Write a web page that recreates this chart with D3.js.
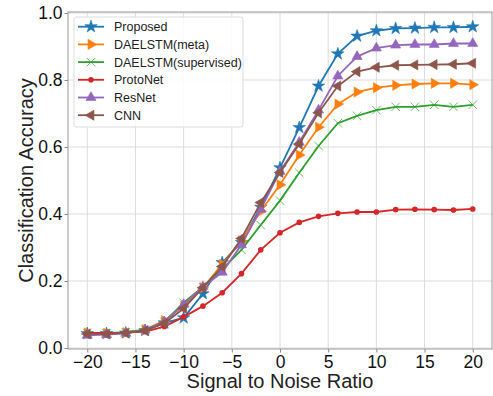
<!DOCTYPE html>
<html><head><meta charset="utf-8">
<script src="https://cdn.jsdelivr.net/npm/d3@7"></script>
<style>body{margin:0;background:#fff;} svg{display:block;font-family:"Liberation Sans",Arial,sans-serif;}</style>
</head><body>
<svg id="c" width="493" height="396"></svg>
<script>
const snr = [-20,-18,-16,-14,-12,-10,-8,-6,-4,-2,0,2,4,6,8,10,12,14,16,18,20];
const seriesNames = ["Proposed","DAELSTM(meta)","DAELSTM(supervised)","ProtoNet","ResNet","CNN"];
const proposed = [0.043,0.043,0.045,0.052,0.075,0.090,0.162,0.255,0.315,0.420,0.538,0.658,0.782,0.878,0.931,0.947,0.954,0.955,0.957,0.957,0.959];
const daelstmMeta = [0.045,0.044,0.046,0.055,0.082,0.125,0.180,0.250,0.320,0.408,0.487,0.576,0.659,0.728,0.764,0.777,0.784,0.788,0.790,0.790,0.786];
const daelstmSup = [0.045,0.044,0.047,0.055,0.078,0.135,0.182,0.235,0.293,0.367,0.440,0.523,0.603,0.671,0.693,0.710,0.720,0.720,0.726,0.720,0.726];
const protoNet = [0.045,0.045,0.046,0.049,0.064,0.093,0.125,0.165,0.222,0.293,0.344,0.375,0.393,0.402,0.406,0.406,0.413,0.414,0.413,0.412,0.415];
const resNet = [0.038,0.040,0.044,0.054,0.078,0.130,0.183,0.226,0.308,0.414,0.527,0.614,0.710,0.812,0.870,0.895,0.904,0.906,0.906,0.909,0.909];
const cnn = [0.042,0.042,0.045,0.052,0.074,0.118,0.180,0.243,0.327,0.434,0.524,0.609,0.702,0.782,0.825,0.838,0.844,0.845,0.846,0.847,0.850];
const xTicks = [-20,-15,-10,-5,0,5,10,15,20];
const yTicks = [0.0,0.2,0.4,0.6,0.8,1.0];

const colors = ["#1f77b4","#ff7f0e","#2ca02c","#d62728","#9467bd","#8c564b"];
const markers = ["star","right","x","dot","up","left"];
const values = [proposed,daelstmMeta,daelstmSup,protoNet,resNet,cnn];

const svg = d3.select("#c");
const L=68, R=492, T=12, B=349;
const x = d3.scaleLinear().domain([-22,22]).range([L,R]);
const y = d3.scaleLinear().domain([0,1]).range([348,13]);

// grid
const g = svg.append("g");
g.selectAll(".gx").data(xTicks).enter().append("line")
  .attr("x1",d=>x(d)).attr("x2",d=>x(d)).attr("y1",T).attr("y2",B)
  .attr("stroke","#dcdcdc").attr("stroke-width",1);
g.selectAll(".gy").data(yTicks).enter().append("line")
  .attr("x1",L).attr("x2",R).attr("y1",d=>y(d)).attr("y2",d=>y(d))
  .attr("stroke","#dcdcdc").attr("stroke-width",1);

// axes
const xa = svg.append("g").attr("transform",`translate(0,${B})`)
  .call(d3.axisBottom(x).tickValues(xTicks).tickSize(3.5).tickPadding(3).tickFormat(d=>d<0?"\u2212"+Math.abs(d):d));
const ya = svg.append("g").attr("transform",`translate(${L},0)`)
  .call(d3.axisLeft(y).tickValues(yTicks).tickSize(3.5).tickPadding(2).tickFormat(d3.format(".1f")));
[xa,ya].forEach(a=>{
  a.select(".domain").remove();
  a.selectAll(".tick line").attr("stroke","#888");
  a.selectAll("text").attr("font-size","17.5px").attr("fill","#111").attr("font-family","Liberation Sans, Arial, sans-serif");
});
// frame
svg.append("rect").attr("x",L).attr("y",T).attr("width",R-L).attr("height",B-T)
  .attr("fill","none").attr("stroke","#999").attr("stroke-width",1);

// markers
function drawMarker(sel, type, color, cx, cy){
  if(type==="star"){
    sel.append("path").attr("d",d3.symbol(d3.symbolStar,48)())
      .attr("transform",`translate(${cx},${cy})`).attr("fill",color).attr("stroke",color).attr("stroke-width",0.6);
  } else if(type==="dot"){
    sel.append("circle").attr("cx",cx).attr("cy",cy).attr("r",2.8).attr("fill",color);
  } else if(type==="x"){
    const s=4.2;
    sel.append("path").attr("d",`M${cx-s},${cy-s}L${cx+s},${cy+s}M${cx-s},${cy+s}L${cx+s},${cy-s}`)
      .attr("stroke",color).attr("stroke-width",1).attr("fill","none").attr("opacity",0.7);
  } else {
    const rot = type==="up"?0:(type==="right"?90:-90);
    sel.append("path").attr("d",d3.symbol(d3.symbolTriangle,44)())
      .attr("transform",`translate(${cx},${cy}) rotate(${rot})`).attr("fill",color).attr("stroke",color).attr("stroke-width",0.6);
  }
}

const line = d3.line().x(d=>x(d[0])).y(d=>y(d[1]));
values.forEach((vals,i)=>{
  const pts = snr.map((s,j)=>[s,vals[j]]);
  const sg = svg.append("g");
  sg.append("path").datum(pts).attr("d",line).attr("fill","none")
    .attr("stroke",colors[i]).attr("stroke-width",1.8);
  pts.forEach(p=>drawMarker(sg,markers[i],colors[i],x(p[0]),y(p[1])));
});

// legend
const lg = svg.append("g");
lg.append("rect").attr("x",74).attr("y",17).attr("width",169).attr("height",110).attr("rx",2.5)
  .attr("fill","#fff").attr("fill-opacity",0.85).attr("stroke","#ddd").attr("stroke-width",1);
seriesNames.forEach((n,i)=>{
  const ly = 26.7 + i*17.7;
  lg.append("line").attr("x1",78).attr("x2",104).attr("y1",ly).attr("y2",ly)
    .attr("stroke",colors[i]).attr("stroke-width",1.8);
  drawMarker(lg,markers[i],colors[i],91,ly);
  lg.append("text").attr("x",114).attr("y",ly+4.5).attr("font-size","12.5px").attr("fill","#222").text(n);
});

// axis labels
svg.append("text").attr("x",x(0)).attr("y",388).attr("text-anchor","middle")
  .attr("font-size","20px").attr("fill","#222").text("Signal to Noise Ratio");
svg.append("text").attr("transform",`translate(33,${(T+B)/2}) rotate(-90)`).attr("text-anchor","middle")
  .attr("font-size","20px").attr("fill","#222").text("Classification Accuracy");
</script>
</body></html>
